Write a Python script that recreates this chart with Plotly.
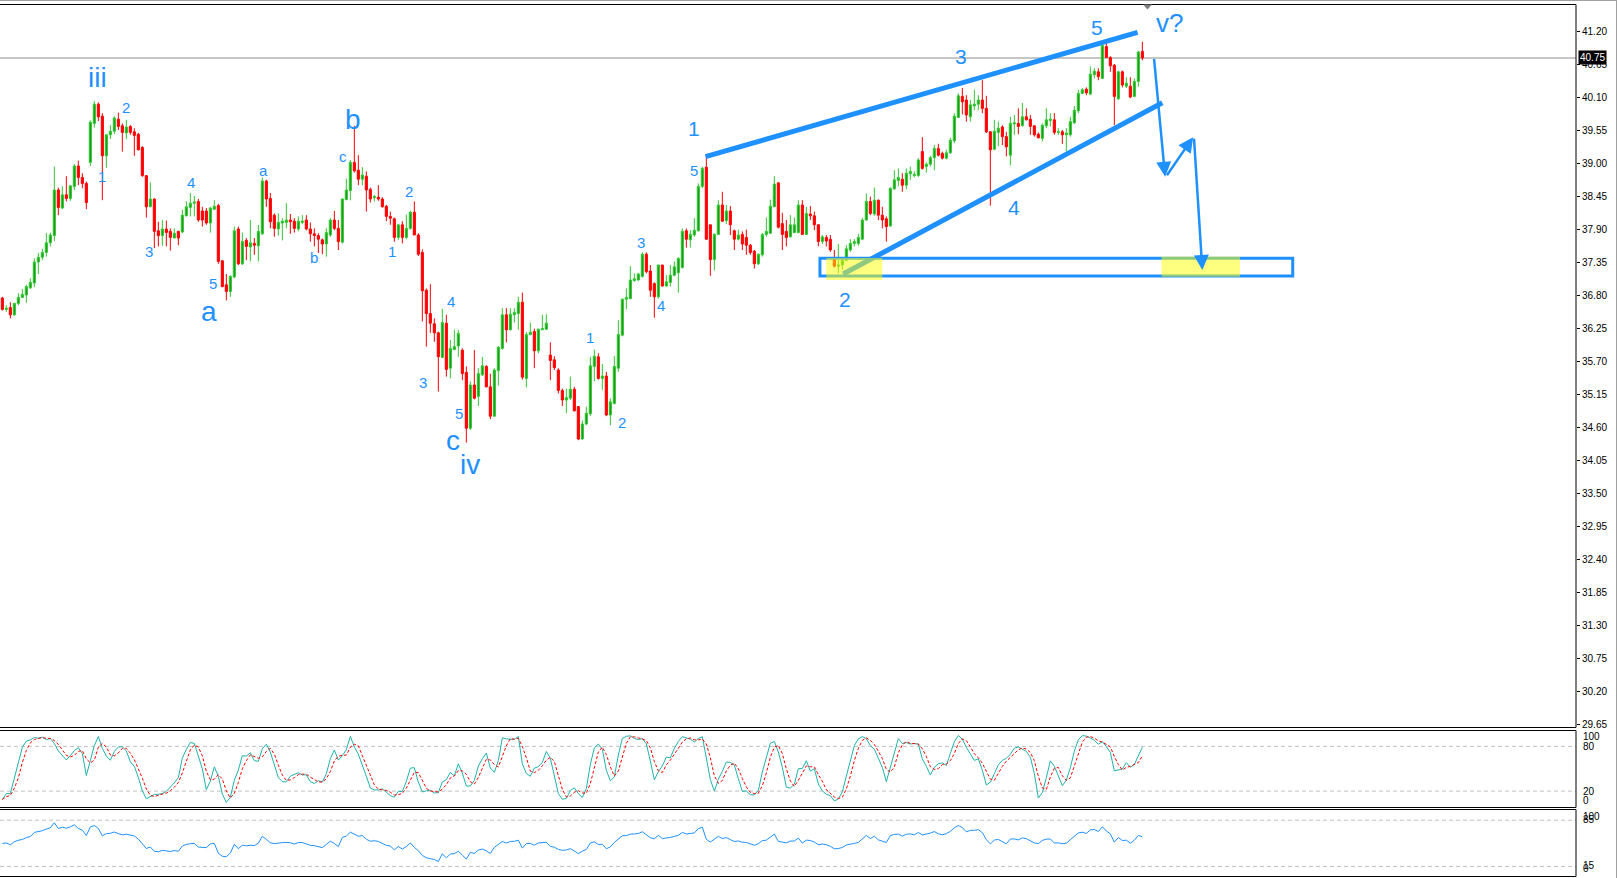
import plotly.graph_objects as go
import pandas as pd

W, H = 1617, 878

# ---------------- data ----------------
opens = [36.75,36.56,36.59,36.47,36.66,36.76,36.80,36.92,37.00,37.35,
37.43,37.51,37.67,37.79,38.55,38.25,38.47,38.41,38.61,38.95,
38.76,38.66,39.01,39.66,39.98,39.78,39.12,39.47,39.53,39.73,
39.62,39.50,39.61,39.52,39.48,39.26,38.79,38.27,38.40,37.87,
37.79,37.90,37.86,37.75,37.86,37.85,38.12,38.26,38.33,38.36,
38.20,38.20,38.00,38.23,38.29,37.37,36.97,36.86,37.10,37.90,
37.32,37.71,37.60,37.66,37.62,37.82,38.70,38.41,38.13,37.90,
38.00,38.01,38.05,38.03,37.90,38.01,38.05,37.90,37.82,37.79,
37.72,37.65,37.80,38.05,37.91,37.68,38.39,38.54,39.01,38.88,
38.73,38.78,38.56,38.42,38.43,38.40,38.28,38.11,38.07,37.76,
37.97,37.76,37.91,38.18,37.80,37.51,36.88,36.49,36.32,36.17,
35.76,36.33,35.58,35.89,35.95,35.88,35.51,34.58,35.30,35.11,
35.47,35.61,35.27,34.78,35.54,35.91,36.47,36.22,36.47,36.49,
36.68,35.41,36.14,36.19,35.87,36.22,36.23,35.80,35.72,35.55,
35.21,35.05,35.08,35.23,34.94,34.40,34.65,34.82,35.61,35.77,
35.41,35.45,34.80,34.99,35.58,36.13,36.73,36.74,37.04,37.05,
37.11,37.48,37.20,36.99,36.77,37.30,36.95,37.01,37.13,37.17,
37.26,37.87,37.72,37.80,37.87,38.61,38.93,37.97,37.39,37.81,
38.30,38.04,38.20,37.87,37.73,37.81,37.76,37.63,37.53,37.32,
37.47,37.81,37.83,38.27,38.67,37.99,37.86,37.77,37.84,37.84,
38.30,37.81,38.15,38.12,37.97,37.69,37.76,37.73,37.41,37.28,
37.30,37.38,37.55,37.66,37.66,37.73,38.05,38.36,38.15,38.38,
38.13,38.07,37.95,38.57,38.71,38.73,38.63,38.82,38.79,38.79,
39.19,38.94,38.98,39.09,39.24,39.16,39.08,39.17,39.37,39.76,
40.11,40.05,39.77,39.95,39.98,40.05,39.91,39.52,39.23,39.51,
39.60,39.44,39.13,39.65,39.66,39.62,39.77,39.73,39.62,39.48,
39.41,39.62,39.71,39.72,39.51,39.52,39.47,39.47,39.67,39.87,
40.16,40.23,40.15,40.47,40.52,40.41,40.94,40.76,40.63,40.07,
40.52,40.28,40.28,40.11,40.36,40.86]

highs = [36.77,36.63,36.68,36.67,36.83,36.90,36.97,37.08,37.41,37.50,
37.57,37.83,37.84,38.94,38.59,38.61,38.78,38.63,38.98,39.04,
38.83,38.69,39.71,40.03,40.01,39.83,39.48,39.63,39.78,39.84,
39.66,39.72,39.63,39.58,39.50,39.28,38.80,38.68,38.41,38.02,
38.05,38.04,37.91,37.91,37.87,38.22,38.36,38.50,38.45,38.40,
38.27,38.25,38.27,38.38,38.32,37.38,37.15,37.13,37.94,37.94,
37.84,37.75,38.05,37.75,37.97,38.76,38.72,38.50,38.16,38.16,
38.08,38.33,38.15,38.08,38.11,38.13,38.13,38.01,37.91,37.83,
37.74,37.91,38.08,38.20,38.05,38.41,38.74,39.05,39.62,39.13,
38.93,38.86,38.59,38.47,38.63,38.43,38.30,38.19,38.09,37.98,
38.03,38.14,38.20,38.36,37.83,37.56,36.91,36.98,36.41,36.19,
36.57,36.47,36.05,36.22,36.22,35.91,35.61,35.36,35.88,35.58,
35.77,35.63,35.49,35.58,35.95,36.58,36.58,36.58,36.58,36.77,
36.84,36.18,36.34,36.24,36.24,36.47,36.48,36.01,35.78,35.58,
35.24,35.24,35.44,35.27,34.95,34.71,34.94,35.77,35.89,35.83,
35.65,35.52,35.08,35.78,36.38,36.74,36.91,37.28,37.16,37.17,
37.51,37.51,37.30,37.01,37.30,37.30,37.13,37.30,37.36,37.43,
37.91,37.91,37.88,38.08,38.66,38.94,39.11,37.97,37.83,38.38,
38.52,38.30,38.28,37.89,37.89,37.86,37.89,37.65,37.55,37.49,
37.83,38.09,38.39,38.78,38.67,38.17,38.05,38.13,38.09,38.38,
38.38,38.27,38.28,38.19,37.98,37.80,37.80,37.80,37.55,37.65,
37.43,37.63,37.73,37.73,37.82,38.08,38.49,38.44,38.59,38.39,
38.27,38.11,38.59,38.88,38.91,38.83,38.91,38.94,38.86,39.08,
39.43,39.01,39.12,39.30,39.32,39.19,39.22,39.42,39.83,40.16,
40.25,40.13,40.05,40.22,40.13,40.38,40.12,39.53,39.72,39.69,
39.63,39.52,39.77,39.80,39.91,40.00,39.91,39.80,39.63,39.51,
39.66,39.91,39.83,39.83,39.58,39.55,39.58,39.77,39.95,40.22,
40.25,40.26,40.61,40.58,40.58,41.00,41.00,40.78,40.65,40.54,
40.54,40.43,40.43,40.41,40.87,41.02]

lows = [36.54,36.52,36.41,36.45,36.63,36.75,36.67,36.90,36.93,37.15,
37.38,37.44,37.61,37.70,38.13,38.23,38.36,38.37,38.55,38.63,
38.58,38.23,38.95,39.59,39.70,38.38,38.92,39.40,39.48,39.55,
39.19,39.40,39.47,39.12,39.21,38.77,38.09,38.27,37.58,37.61,
37.62,37.61,37.54,37.75,37.63,37.83,38.11,38.11,38.11,38.02,
37.94,37.97,37.84,38.22,37.32,36.93,36.71,36.77,37.08,37.30,
37.30,37.38,37.36,37.47,37.36,37.80,38.27,37.91,37.77,37.79,
37.71,37.91,37.82,37.84,37.86,37.98,37.88,37.69,37.61,37.50,
37.48,37.44,37.77,37.88,37.55,37.66,38.38,38.38,38.84,38.63,
38.63,38.19,38.34,38.36,38.37,38.26,38.03,37.97,37.69,37.72,
37.66,37.73,37.89,37.80,37.45,36.36,35.94,36.17,36.02,35.19,
35.76,35.44,35.41,35.88,35.77,35.38,34.34,34.55,35.06,34.95,
35.45,35.26,34.73,34.77,35.29,35.89,36.01,36.21,36.34,36.22,
35.39,35.26,36.13,35.58,35.83,36.22,36.22,35.38,35.55,35.16,
34.95,34.83,35.05,34.86,34.38,34.39,34.63,34.78,35.36,35.39,
35.22,34.78,34.63,34.98,35.52,36.11,36.56,36.73,37.02,37.04,
37.09,37.16,36.77,36.42,36.74,36.94,36.94,36.94,37.11,36.84,
37.24,37.59,37.59,37.77,37.86,38.58,37.72,37.12,37.21,37.80,
38.02,37.98,37.80,37.55,37.71,37.55,37.47,37.47,37.24,37.30,
37.44,37.77,37.82,38.27,37.91,37.55,37.61,37.76,37.83,37.83,
37.81,37.80,38.05,37.88,37.61,37.65,37.61,37.52,37.26,37.16,
37.22,37.36,37.52,37.61,37.62,37.72,38.04,38.13,38.12,38.05,
37.91,37.69,37.94,38.55,38.61,38.52,38.56,38.72,38.76,38.77,
38.89,38.84,38.94,38.88,39.11,39.06,39.06,39.15,39.33,39.75,
39.81,39.69,39.69,39.88,39.88,39.83,39.50,38.29,39.22,39.28,
39.30,39.11,38.96,39.47,39.48,39.61,39.71,39.47,39.44,39.41,
39.36,39.58,39.61,39.47,39.47,39.32,39.19,39.44,39.65,39.83,
40.15,40.13,40.13,40.41,40.38,40.40,40.75,40.52,39.63,40.05,
40.26,40.25,40.08,40.10,40.27,40.71]

closes = [36.56,36.58,36.47,36.66,36.76,36.81,36.94,37.01,37.35,37.43,
37.51,37.67,37.80,38.55,38.26,38.47,38.41,38.62,38.95,38.76,
38.66,38.34,39.68,39.98,39.77,39.12,39.47,39.53,39.75,39.61,
39.51,39.60,39.51,39.46,39.22,38.79,38.27,38.40,37.86,37.79,
37.90,37.84,37.76,37.83,37.75,38.13,38.27,38.33,38.35,38.05,
38.05,38.00,38.25,38.28,37.36,36.94,36.86,37.11,37.87,37.32,
37.69,37.61,37.67,37.63,37.86,38.70,38.40,38.02,37.91,38.01,
38.03,38.05,38.02,37.91,38.03,38.03,37.90,37.82,37.79,37.73,
37.65,37.84,38.05,37.91,37.69,38.40,38.55,39.01,38.87,38.73,
38.80,38.55,38.40,38.44,38.40,38.27,38.11,38.08,37.76,37.97,
37.76,37.91,38.18,37.80,37.48,36.87,36.49,36.33,36.17,35.77,
36.34,35.56,35.91,35.94,36.16,35.49,34.58,35.30,35.08,35.49,
35.62,35.27,34.78,35.55,35.93,36.47,36.22,36.48,36.51,36.68,
35.43,36.14,36.18,35.87,36.23,36.24,36.33,35.71,35.59,35.21,
35.05,35.09,35.23,34.87,34.40,34.65,34.83,35.62,35.78,35.41,
35.45,34.80,35.02,35.61,36.14,36.73,36.76,37.05,37.07,37.15,
37.48,37.19,36.88,36.77,37.30,36.95,37.02,37.13,37.27,37.41,
37.86,37.73,37.81,37.88,38.61,38.91,37.73,37.39,37.81,38.30,
38.03,38.20,37.97,37.73,37.80,37.65,37.63,37.51,37.32,37.48,
37.81,37.86,38.28,38.65,37.93,37.81,37.76,37.97,37.97,38.30,
37.81,38.16,38.12,37.97,37.69,37.77,37.70,37.55,37.28,37.30,
37.38,37.57,37.66,37.69,37.76,38.05,38.36,38.16,38.38,38.13,
38.05,37.94,38.58,38.72,38.76,38.63,38.83,38.86,38.81,39.05,
38.91,38.98,39.09,39.24,39.13,39.08,39.17,39.38,39.78,40.12,
40.02,39.80,39.97,39.98,40.05,39.91,39.52,39.22,39.53,39.58,
39.44,39.27,39.66,39.67,39.61,39.77,39.72,39.61,39.47,39.42,
39.63,39.72,39.73,39.51,39.52,39.47,39.50,39.69,39.88,40.16,
40.22,40.17,40.48,40.53,40.44,40.96,40.76,40.62,40.11,40.52,
40.30,40.33,40.10,40.36,40.85,40.75]

price_ticks = [29.65,30.20,30.75,31.30,31.85,32.40,32.95,33.50,34.05,34.60,35.15,
               35.70,36.25,36.80,37.35,37.90,38.45,39.00,39.55,40.10,40.65,41.20]
price_tick_text = ["%.2f" % v for v in price_ticks]
last_price = 40.75
stoch_levels = [80, 20]
rsi_levels = [85, 15]

# wave labels: (text, bar index, price)
big_letters = [("iii", 23.7, 40.42), ("a", 51.7, 36.52), ("b", 87.7, 39.72),
               ("c", 112.7, 34.38), ("iv", 116.9, 33.97)]
big_digits = [("1", 172.9, 39.57), ("2", 210.7, 36.72), ("3", 239.7, 40.77),
              ("4", 252.9, 38.25), ("5", 273.7, 41.25)]
small_labels = [("2", 30.9, 39.92), ("1", 24.9, 38.78), ("3", 36.7, 37.53),
                ("4", 47.2, 38.68), ("5", 52.7, 37.00), ("a", 65.4, 38.88),
                ("b", 77.9, 37.43), ("c", 85.2, 39.10), ("2", 101.7, 38.53),
                ("1", 97.4, 37.53), ("4", 112.2, 36.70), ("3", 105.2, 35.35),
                ("5", 114.2, 34.82), ("1", 146.9, 36.10), ("2", 154.9, 34.68),
                ("3", 159.7, 37.68), ("5", 172.9, 38.87), ("4", 164.7, 36.62)]

# ---------------- indicators computed from the candles ----------------
c = pd.Series(closes)
h = pd.Series(highs)
l = pd.Series(lows)
ll = l.rolling(5, min_periods=1).min()
hh = h.rolling(5, min_periods=1).max()
num = (c - ll).rolling(3, min_periods=1).sum()
den = (hh - ll).rolling(3, min_periods=1).sum()
k_line = (100 * num / den).fillna(50)
d_line = k_line.rolling(3, min_periods=1).mean()

# RSI(14), Wilder smoothing, seeded with the average absolute move of the first bars
deltas = c.diff().fillna(0).tolist()
seed = sum(abs(d) for d in deltas[1:15]) / 14.0 / 2.0
avg_g, avg_l = seed, seed
rsi = []
for d in deltas:
    g = d if d > 0 else 0.0
    lo = -d if d < 0 else 0.0
    avg_g = (avg_g * 13 + g) / 14.0
    avg_l = (avg_l * 13 + lo) / 14.0
    rsi.append(100 - 100 / (1 + avg_g / avg_l) if avg_l > 0 else 100.0)

n = len(closes)
idx = list(range(n))

# ---------------- geometry helpers ----------------
PLOT_R = 1576.0


def fx(p):
    return p / W


def fy(p):
    return 1 - p / H


X0 = (0 - 2.33) / 4.0
X1 = (PLOT_R - 2.33) / 4.0

BLUE = "#1E90FF"
FONT = "Liberation Sans, Arial, sans-serif"

fig = go.Figure()

fig.add_trace(go.Candlestick(
    x=idx, open=opens, high=highs, low=lows, close=closes,
    increasing=dict(line=dict(color="#2EC82E", width=1), fillcolor="#1E961E"),
    decreasing=dict(line=dict(color="#FF0000", width=1), fillcolor="#FF0000"),
    whiskerwidth=0, hoverinfo="none", showlegend=False,
    xaxis="x", yaxis="y"))

fig.add_trace(go.Scatter(x=idx, y=k_line, mode="lines", xaxis="x", yaxis="y2",
                         line=dict(color="#20B2AA", width=1), hoverinfo="skip",
                         showlegend=False))
fig.add_trace(go.Scatter(x=idx, y=d_line, mode="lines", xaxis="x", yaxis="y2",
                         line=dict(color="#FF0000", width=1, dash="3px,2px"),
                         hoverinfo="skip", showlegend=False))
fig.add_trace(go.Scatter(x=idx, y=rsi, mode="lines", xaxis="x", yaxis="y3",
                         line=dict(color="#1E90FF", width=1), hoverinfo="skip",
                         showlegend=False))

shapes = []
# price line
shapes.append(dict(type="line", xref="paper", yref="y", x0=0, x1=fx(PLOT_R),
                   y0=last_price, y1=last_price, layer="below",
                   line=dict(color="#8C8C8C", width=1)))
# indicator levels
for lv in stoch_levels:
    shapes.append(dict(type="line", xref="paper", yref="y2", x0=0, x1=fx(PLOT_R),
                       y0=lv, y1=lv, layer="below",
                       line=dict(color="#C0C0C0", width=1, dash="4px,3px")))
for lv in rsi_levels:
    shapes.append(dict(type="line", xref="paper", yref="y3", x0=0, x1=fx(PLOT_R),
                       y0=lv, y1=lv, layer="below",
                       line=dict(color="#C0C0C0", width=1, dash="4px,3px")))

# wedge trend lines
shapes.append(dict(type="line", xref="x", yref="y", x0=175.8, y0=39.105, x1=283.8, y1=41.178,
                   line=dict(color=BLUE, width=5)))
shapes.append(dict(type="line", xref="x", yref="y", x0=210.2, y0=37.15, x1=290.0, y1=40.005,
                   line=dict(color=BLUE, width=5)))
# target rectangle
shapes.append(dict(type="rect", xref="x", yref="y", x0=204.4, x1=322.6, y0=37.117, y1=37.412,
                   line=dict(color=BLUE, width=3), fillcolor="rgba(0,0,0,0)"))
# yellow highlights
shapes.append(dict(type="rect", xref="x", yref="y", x0=206.0, x1=220.0, y0=37.05, y1=37.417,
                   line=dict(width=0), fillcolor="rgba(255,255,0,0.5)"))
shapes.append(dict(type="rect", xref="x", yref="y", x0=289.8, x1=309.4, y0=37.105, y1=37.44,
                   line=dict(width=0), fillcolor="rgba(255,255,0,0.5)"))

# frame lines (pixel geometry)
def hline(py, x0, x1, color="#000000", w=1):
    shapes.append(dict(type="line", xref="paper", yref="paper", x0=fx(x0), x1=fx(x1),
                       y0=fy(py), y1=fy(py), line=dict(color=color, width=w)))


def vline(px, y0, y1, color="#000000", w=1):
    shapes.append(dict(type="line", xref="paper", yref="paper", x0=fx(px), x1=fx(px),
                       y0=fy(y0), y1=fy(y1), line=dict(color=color, width=w)))

hline(0.5, 0, W, "#A0A0A0", 1)
vline(1616.5, 0, H, "#A0A0A0", 1)
hline(4.5, 0, PLOT_R)
hline(727.5, 0, PLOT_R)
hline(730.5, 0, PLOT_R)
hline(807.5, 0, PLOT_R)
hline(809.5, 0, PLOT_R)
hline(876.5, 0, PLOT_R)
vline(PLOT_R, 4.5, 727.5)
vline(PLOT_R, 730.5, 807.5)
vline(PLOT_R, 809.5, 876.5)
# chart-shift marker
shapes.append(dict(type="path", xref="paper", yref="paper",
                   path="M %f %f L %f %f L %f %f Z" % (fx(1143), fy(4.5), fx(1152), fy(4.5), fx(1147.5), fy(9.5)),
                   fillcolor="#808080", line=dict(width=0)))

annotations = []
for t, xi, yp in big_letters:
    annotations.append(dict(text=t, x=xi, y=yp, xref="x", yref="y", showarrow=False,
                            xanchor="center", yanchor="middle",
                            font=dict(family=FONT, size=28, color=BLUE)))
for t, xi, yp in big_digits:
    annotations.append(dict(text=t, x=xi, y=yp, xref="x", yref="y", showarrow=False,
                            xanchor="center", yanchor="middle",
                            font=dict(family=FONT, size=21, color=BLUE)))
annotations.append(dict(text="v?", x=291.9, y=41.33, xref="x", yref="y", showarrow=False,
                        xanchor="center", yanchor="middle",
                        font=dict(family=FONT, size=26, color=BLUE)))
for t, xi, yp in small_labels:
    annotations.append(dict(text=t, x=xi, y=yp, xref="x", yref="y", showarrow=False,
                            xanchor="center", yanchor="middle",
                            font=dict(family=FONT, size=15, color=BLUE)))

# projected path arrows
for (xa, ya, xb, yb) in [(287.9, 40.76, 290.7, 38.77),
                         (290.9, 38.77, 297.7, 39.43),
                         (297.9, 39.43, 300.0, 37.217)]:
    annotations.append(dict(x=xb, y=yb, ax=xa, ay=ya, xref="x", yref="y",
                            axref="x", ayref="y", text="", showarrow=True,
                            arrowhead=2, arrowsize=1.2, arrowwidth=2.5,
                            arrowcolor=BLUE, standoff=0))

# current price tag
annotations.append(dict(text="40.75", x=fx(1577.5), y=fy(57.5), xref="paper", yref="paper",
                        showarrow=False, xanchor="left", yanchor="middle",
                        bgcolor="#000000", borderpad=1,
                        font=dict(family=FONT, size=10, color="#FFFFFF")))

# sub-window scale labels
for txt, py in [("100", 736.7), ("80", 746.7), ("20", 791.0), ("0", 800.0),
                ("100", 816.0), ("85", 819.5), ("15", 865.0), ("0", 868.5)]:
    annotations.append(dict(text=txt, x=fx(1581), y=fy(py), xref="paper", yref="paper",
                            showarrow=False, xanchor="left", yanchor="middle",
                            font=dict(family=FONT, size=10, color="#000000")))

fig.update_layout(
    width=W, height=H,
    margin=dict(l=0, r=0, t=0, b=0),
    paper_bgcolor="#FFFFFF", plot_bgcolor="#FFFFFF",
    showlegend=False,
    boxgap=0.25,
    xaxis=dict(domain=[0, fx(PLOT_R)], range=[X0, X1], showgrid=False, zeroline=False,
               showticklabels=False, showline=False, ticks="", anchor="y3",
               rangeslider=dict(visible=False), fixedrange=True),
    yaxis=dict(domain=[fy(727.5), fy(4.5)],
               range=[41.20 - (727.5 - 31) / 60.0, 41.20 + (31 - 4.5) / 60.0],
               side="right", anchor="x", showgrid=False, zeroline=False, showline=False,
               tickvals=price_ticks, ticktext=price_tick_text, ticks="outside",
               ticklen=3, tickcolor="#000000", automargin=False,
               tickfont=dict(family=FONT, size=10, color="#000000")),
    yaxis2=dict(domain=[fy(807.5), fy(730.5)], range=[-2.0, 101.3], side="right",
                anchor="x", showgrid=False, zeroline=False, showline=False,
                showticklabels=False, ticks="", automargin=False),
    yaxis3=dict(domain=[fy(876.5), fy(809.5)], range=[-0.2, 101.2], side="right",
                anchor="x", showgrid=False, zeroline=False, showline=False,
                showticklabels=False, ticks="", automargin=False),
    shapes=shapes,
    annotations=annotations,
)

fig.write_html("out.html", config={"displayModeBar": False, "staticPlot": True},
               post_script="document.body.style.margin='0';document.body.style.overflow='hidden';")
